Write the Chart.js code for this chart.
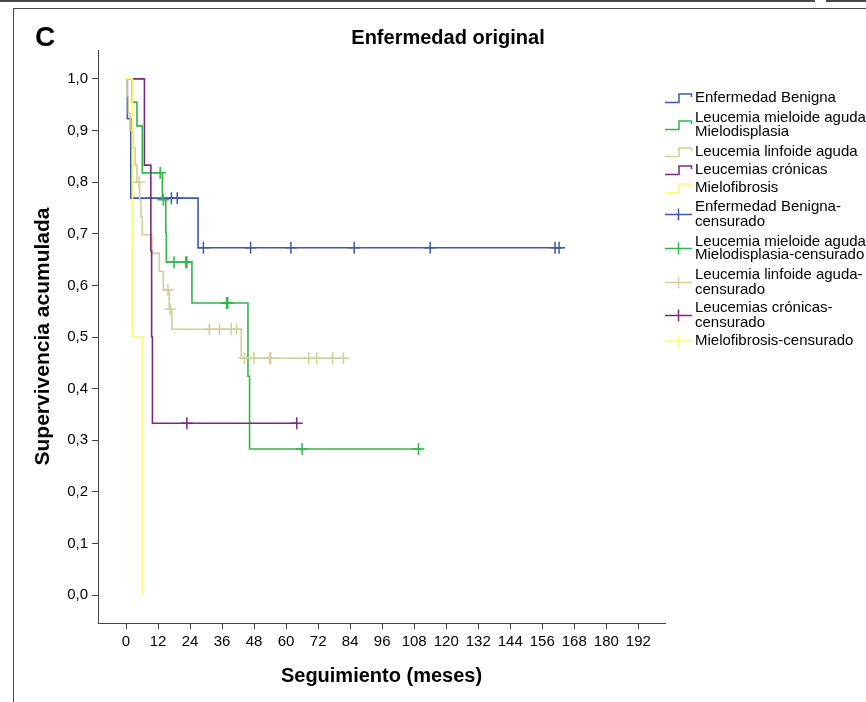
<!DOCTYPE html>
<html>
<head>
<meta charset="utf-8">
<script src="https://cdn.jsdelivr.net/npm/chart.js@4.4.1/dist/chart.umd.min.js"></script>
<style>
  html, body { margin: 0; padding: 0; background: #fff; }
  #wrap { position: relative; width: 866px; height: 702px; overflow: hidden; }
  #chart { position: absolute; left: 0; top: 0; }
  .linea { position: absolute; background: #4a4a4a; }
</style>
</head>
<body>
<div id="wrap">
  <div class="linea" style="left:0;top:0;width:815px;height:2px"></div>
  <div class="linea" style="left:826px;top:0;width:40px;height:2px"></div>
  <div class="linea" style="left:13px;top:8px;width:853px;height:1px"></div>
  <div class="linea" style="left:13px;top:8px;width:1px;height:694px"></div>
  <canvas id="chart" width="866" height="702"></canvas>
</div>
<script>
// Datos (meses, supervivencia acumulada)
const titulo = "Enfermedad original";
const letraPanel = "C";
const tituloX = "Seguimiento (meses)";
const tituloY = "Supervivencia acumulada";
const ticksX = [0, 12, 24, 36, 48, 60, 72, 84, 96, 108, 120, 132, 144, 156, 168, 180, 192];
const ticksY = [0, 0.1, 0.2, 0.3, 0.4, 0.5, 0.6, 0.7, 0.8, 0.9, 1.0];

const grupos = ["Enfermedad Benigna", "Leucemia mieloide aguda/ Mielodisplasia", "Leucemia linfoide aguda", "Leucemias crónicas", "Mielofibrosis"];

const benignaT = [0, 0.5, 1.8, 27, 164];
const benignaS = [1, 0.923, 0.769, 0.673, 0.673];
const benignaCens = [17, 19.2, 29, 46.7, 61.8, 85.5, 114, 160.8, 162.3];

const mieloideT = [0, 2.3, 4.1, 6.1, 13.6, 14.9, 15.1, 24.7, 45.7, 46.3, 110.7];
const mieloideS = [1, 0.955, 0.909, 0.818, 0.766, 0.703, 0.645, 0.566, 0.424, 0.283, 0.283];
const mieloideCens = [12.8, 14, 18, 22.4, 22.8, 37.7, 38.1, 66, 109.6];

const linfoideT = [0, 0.4, 0.9, 1.5, 2.6, 3.4, 4.1, 5.1, 5.6, 6.1, 9.7, 12.5, 14, 16.2, 17.2, 43.2, 81.5];
const linfoideS = [1, 0.967, 0.933, 0.9, 0.867, 0.833, 0.8, 0.766, 0.733, 0.698, 0.662, 0.627, 0.591, 0.554, 0.515, 0.459, 0.459];
const linfoideCens = [4.9, 15.7, 16.6, 31.2, 35, 39.4, 41.4, 44.4, 48, 53.8, 54.2, 68.5, 71.5, 77.5, 81.5];

const cronicasT = [0, 6.9, 9.3, 9.6, 9.9, 64.4];
const cronicasS = [1, 0.833, 0.667, 0.5, 0.333, 0.333];
const cronicasCens = [22.8, 64];

const mielofibrosisT = [0, 2.4, 6.1];
const mielofibrosisS = [1, 0.5, 0];
const mielofibrosisCens = [];

const colores = ["#3e58ac", "#2eb848", "#d3ce97", "#7c287d", "#fbf873"];

// valor de la curva escalonada en el tiempo t
function valorEn(ts, ss, t) {
  let v = ss[0];
  for (let i = 0; i < ts.length; i++) if (ts[i] <= t) v = ss[i];
  return v;
}

const curvas = [
  [benignaT, benignaS, benignaCens],
  [mieloideT, mieloideS, mieloideCens],
  [linfoideT, linfoideS, linfoideCens],
  [cronicasT, cronicasS, cronicasCens],
  [mielofibrosisT, mielofibrosisS, mielofibrosisCens]
];

const datasets = [];
curvas.forEach(([ts, ss], i) => {
  datasets.push({
    label: grupos[i],
    data: ts.map((t, k) => ({ x: t, y: ss[k] })),
    showLine: true,
    stepped: "before",
    borderColor: colores[i],
    borderWidth: 1.6,
    pointRadius: 0,
    order: 5 - i
  });
});
curvas.forEach(([ts, ss, cs], i) => {
  datasets.push({
    label: grupos[i] + "-censurado",
    data: cs.map(t => ({ x: t, y: valorEn(ts, ss, t) })),
    showLine: false,
    pointStyle: "cross",
    pointRadius: 6,
    borderColor: colores[i],
    borderWidth: 1.5,
    order: 0
  });
});

// leyenda: texto de cada entrada (líneas), posición vertical de cada línea
const leyenda = [
  { tipo: "paso", c: 0, lineas: ["Enfermedad Benigna"], y: [98] },
  { tipo: "paso", c: 1, lineas: ["Leucemia mieloide aguda/", "Mielodisplasia"], y: [118, 132] },
  { tipo: "paso", c: 2, lineas: ["Leucemia linfoide aguda"], y: [152] },
  { tipo: "paso", c: 3, lineas: ["Leucemias crónicas"], y: [170] },
  { tipo: "paso", c: 4, lineas: ["Mielofibrosis"], y: [188] },
  { tipo: "cruz", c: 0, lineas: ["Enfermedad Benigna-", "censurado"], y: [207, 222] },
  { tipo: "cruz", c: 1, lineas: ["Leucemia mieloide aguda/", "Mielodisplasia-censurado"], y: [242, 255] },
  { tipo: "cruz", c: 2, lineas: ["Leucemia linfoide aguda-", "censurado"], y: [275, 290] },
  { tipo: "cruz", c: 3, lineas: ["Leucemias crónicas-", "censurado"], y: [308, 323] },
  { tipo: "cruz", c: 4, lineas: ["Mielofibrosis-censurado"], y: [341] }
];

const fuente = '"Liberation Sans", Arial, sans-serif';
const fuenteEstrecha = '"Liberation Sans Narrow", "Arial Narrow", "Liberation Sans", sans-serif';

const textos = {
  id: "textos",
  afterDraw(chart) {
    const ctx = chart.ctx;
    ctx.save();
    ctx.fillStyle = "#000";
    ctx.textBaseline = "middle";
    ctx.textAlign = "left";
    ctx.font = "bold 28px " + fuente;
    ctx.fillText(letraPanel, 35, 38);
    ctx.textAlign = "center";
    ctx.font = "bold 20px " + fuente;
    ctx.fillText(titulo, 448, 38);

    ctx.textAlign = "left";
    ctx.font = "15px " + fuente;
    leyenda.forEach(e => {
      const yc = (e.y[0] + e.y[e.y.length - 1]) / 2;
      ctx.strokeStyle = colores[e.c];
      ctx.lineWidth = 1.5;
      ctx.beginPath();
      if (e.tipo === "paso") {
        ctx.moveTo(665, yc + 4.5);
        ctx.lineTo(679, yc + 4.5);
        ctx.lineTo(679, yc - 4);
        ctx.lineTo(691.5, yc - 4);
        ctx.lineTo(691.5, yc - 1);
      } else {
        ctx.moveTo(665, yc);
        ctx.lineTo(692, yc);
        ctx.moveTo(678.5, yc - 6);
        ctx.lineTo(678.5, yc + 6);
      }
      ctx.stroke();
      e.lineas.forEach((l, k) => ctx.fillText(l, 695, e.y[k]));
    });
    ctx.restore();
  }
};

new Chart(document.querySelector("#chart"), {
  type: "scatter",
  data: { datasets },
  options: {
    responsive: false,
    animation: false,
    layout: { padding: { left: 0, top: 50, right: 201, bottom: 0 } },
    plugins: { legend: { display: false }, tooltip: { enabled: false } },
    scales: {
      x: {
        type: "linear",
        min: -10.5,
        max: 202,
        afterFit: s => { s.height = 79; },
        afterBuildTicks: s => { s.ticks = ticksX.map(v => ({ value: v })); },
        grid: { drawOnChartArea: false, drawTicks: true, tickLength: 6, color: "#444" },
        border: { color: "#444", width: 1 },
        ticks: { font: { family: fuenteEstrecha, size: 15 }, color: "#000", padding: 4, maxRotation: 0, autoSkip: false },
        title: { display: true, text: tituloX, font: { family: fuente, size: 20, weight: "bold" }, color: "#000", padding: { top: 0, bottom: 14 } }
      },
      y: {
        type: "linear",
        min: -0.054,
        max: 1.056,
        afterFit: s => { s.width = 98; },
        afterBuildTicks: s => { s.ticks = ticksY.map(v => ({ value: v })); },
        grid: { drawOnChartArea: false, drawTicks: true, tickLength: 6, color: "#444" },
        border: { color: "#444", width: 1 },
        ticks: {
          font: { family: fuenteEstrecha, size: 15 }, color: "#000", padding: 4,
          callback: v => v.toFixed(1).replace(".", ",")
        },
        title: { display: true, text: tituloY, font: { family: fuente, size: 21, weight: "bold" }, color: "#000", padding: { top: 31, bottom: 0 } }
      }
    }
  },
  plugins: [textos]
});
</script>
</body>
</html>
